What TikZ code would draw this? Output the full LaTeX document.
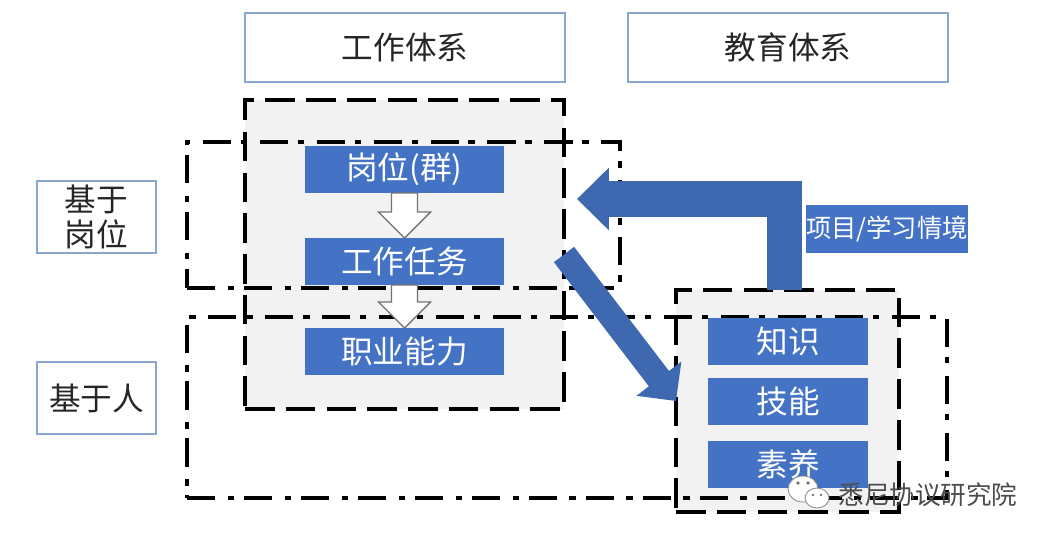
\documentclass[tikz,border=0pt]{standalone}
\usepackage{fontspec}
\setmainfont{Noto Sans CJK SC}
\usetikzlibrary{arrows.meta,calc}
\definecolor{boxblue}{HTML}{4472C4}
\definecolor{arrowblue}{HTML}{3E68B0}
\definecolor{headline}{HTML}{8AA5CF}
\definecolor{panelgray}{HTML}{F2F2F2}
\def\px{0.025cm}
\tikzset{
  headbox/.style={draw=headline,line width=1.4pt,fill=white,text=black!85,inner sep=0,outer sep=0,
    minimum height=69*\px,font=\fontsize{22.5}{25.5}\selectfont},
  bluebox/.style={fill=boxblue,text=white,inner sep=0,outer sep=0,minimum height=47*\px,
    font=\fontsize{22.5}{27}\selectfont},
  dashbox/.style={draw=black,fill=panelgray,line width=2.6pt,dash pattern=on 21pt off 8pt,inner sep=0,outer sep=0},
  dotbox/.style={draw=black,line width=2.4pt,dash pattern=on 20pt off 9pt on 4.5pt off 7pt,inner sep=0,outer sep=0},
  bigarrow/.style n args={3}{draw=arrowblue,line width=#1,-{Triangle[length=#2,width=#3,fill=arrowblue]}},
  whitearrow/.style={draw=black!55,fill=white,line width=1pt,
    to path={($(\tikztostart)+(-13,0)$) -- ($(\tikztotarget)+(-13,-26)$) -- ($(\tikztotarget)+(-26,-26)$)
      -- (\tikztotarget) -- ($(\tikztotarget)+(26,-26)$) -- ($(\tikztotarget)+(13,-26)$)
      -- ($(\tikztostart)+(13,0)$) -- cycle}}
}
\begin{document}
\begin{tikzpicture}[x=0.025cm,y=-0.025cm]
    \useasboundingbox (0,0) rectangle (1053,542);
    \node[headbox,minimum width=320*\px] (worksys) at (405,47.5) {工作体系};
    \node[headbox,minimum width=320*\px] (edusys) at (788,47.5) {教育体系};
    \node[headbox,minimum width=119*\px,minimum height=72*\px,align=center] (basepost) at (96.5,217) {基于\\岗位};
    \node[headbox,minimum width=119*\px,minimum height=72*\px] (baseman) at (96.5,398) {基于人};

    \node[dashbox,minimum width=319*\px,minimum height=309*\px] (workpanel) at (404.5,254.5) {};
    \node[dashbox,minimum width=223*\px,minimum height=222*\px] (skillpanel) at (787.5,401) {};
    \node[dotbox,minimum width=433*\px,minimum height=146*\px] (postframe) at (403.5,215) {};
    \node[dotbox,minimum width=760*\px,minimum height=181*\px] (manframe) at (567,407.5) {};

    \node[bluebox,minimum width=199*\px] (post) at (404.5,169.5) {岗位(群)};
    \node[bluebox,minimum width=199*\px] (task) at (404.5,261.5) {工作任务};
    \node[bluebox,minimum width=199*\px] (ability) at (404.5,351.5) {职业能力};
    \node[bluebox,minimum width=160*\px] (know) at (788,341.5) {知识};
    \node[bluebox,minimum width=160*\px] (skill) at (788,401.5) {技能};
    \node[bluebox,minimum width=160*\px] (quality) at (788,464.5) {素养};
    \node[bluebox,minimum width=160*\px,minimum height=48*\px,font=\fontsize{18}{22}\selectfont] (project) at (887,229) {项目/学习情境};

    \draw[whitearrow] (post.south) to (task.north);
    \draw[whitearrow] (task.south) to (ability.north);

    \coordinate (backtip) at (577,199);
    \draw[bigarrow={25.5pt}{22.7pt}{43.2pt}] ([xshift=-3*\px]skillpanel.north) |- (backtip);
    \draw[bigarrow={18pt}{20pt}{39pt}] (workpanel.east) -- (skillpanel.west);

    \fill[white,draw=black!45,line width=.6pt] (803,489) ellipse (15 and 13);
    \fill[white,draw=black!45,line width=.6pt] (817,498) ellipse (12 and 10);
    \fill[black!55] (798,483) circle (1.8) (808,483) circle (1.8) (813,495) circle (1.4) (821,495) circle (1.4);
    \node[inner sep=0,text=black!70,font=\fontsize{18.2}{22}\selectfont] (mark) at (928,495) {悉尼协议研究院};
\end{tikzpicture}
\end{document}
